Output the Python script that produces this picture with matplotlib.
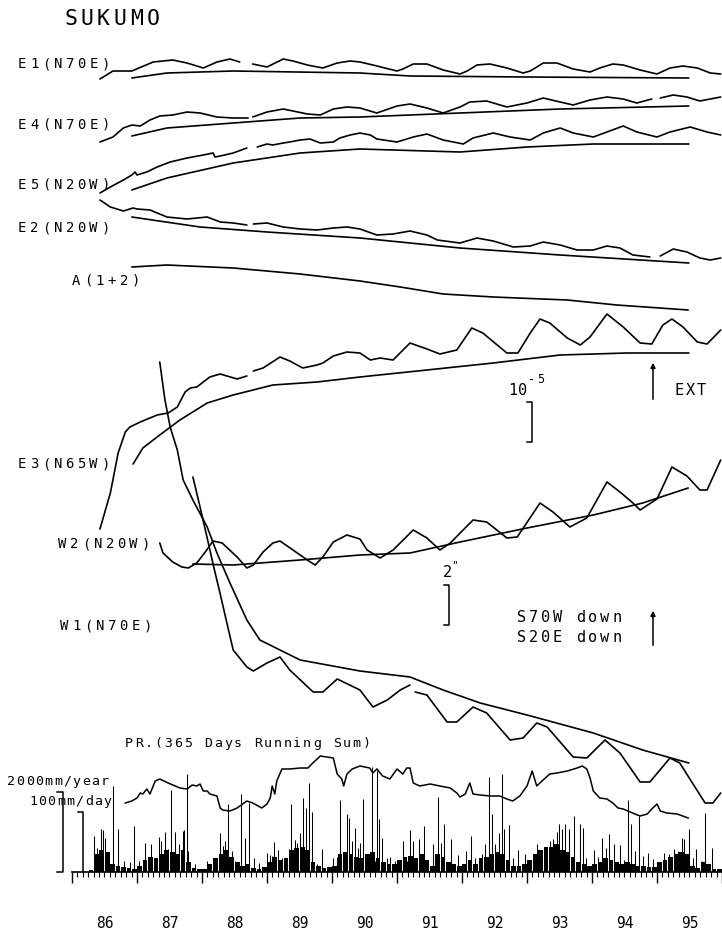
import numpy as np
import matplotlib.pyplot as plt
from matplotlib.transforms import blended_transform_factory

nan = np.nan

#
# strain records, unit 1e-6 (extension up), relative to start of trend
#
e1_year = [1986.43, 1986.63, 1986.92, 1987.25, 1987.55, 1987.77, 1988.02, 1988.23, 1988.43, 1988.58,
           1988.70, 1988.78, 1989.00, 1989.25, 1989.40, 1989.62, 1989.86, 1990.08, 1990.28, 1990.43,
           1990.63, 1991.00, 1991.09, 1991.25, 1991.46, 1991.71, 1991.97, 1992.08, 1992.23, 1992.43,
           1992.69, 1992.94, 1993.05, 1993.25, 1993.46, 1993.71, 1993.97, 1994.12, 1994.32, 1994.48,
           1994.74, 1995.00, 1995.20, 1995.40, 1995.62, 1995.82, 1995.98]
e1_obs = [-0.25, 1.75, 1.75, 4.0, 4.5, 3.75, 2.5, 4.0, 4.75, 4.0,
          nan, 3.5, 2.75, 4.75, 4.25, 3.25, 2.5, 3.75, 4.25, 4.0,
          3.25, 1.75, 2.25, 3.5, 3.5, 2.0, 1.0, 1.75, 3.25, 3.5,
          2.5, 1.25, 1.75, 3.75, 3.75, 2.25, 1.5, 2.5, 3.5, 3.25,
          2.0, 1.0, 2.5, 3.0, 2.5, 1.25, 1.0]
e1_trend_year = [1986.92, 1987.46, 1988.48, 1990.43, 1991.20, 1993.00, 1995.49]
e1_trend = [0, 1.25, 1.75, 1.25, 0.5, 0.25, 0]

e4_year = [1986.43, 1986.63, 1986.79, 1986.92, 1987.05, 1987.20, 1987.35, 1987.55, 1987.77, 1987.97,
           1988.23, 1988.48, 1988.71, 1988.74, 1988.78, 1989.00, 1989.25, 1989.40, 1989.62, 1989.82,
           1990.02, 1990.23, 1990.43, 1990.69, 1991.00, 1991.20, 1991.46, 1991.71, 1991.97, 1992.12,
           1992.38, 1992.69, 1993.00, 1993.25, 1993.51, 1993.71, 1993.97, 1994.23, 1994.48, 1994.69,
           1994.92, 1994.98, 1995.05, 1995.25, 1995.46, 1995.66, 1995.82, 1995.98]
e4_obs = [-1.5, -0.25, 2.0, 2.75, 2.5, 4.0, 5.0, 5.25, 6.0, 5.75,
          4.75, 4.5, 4.5, nan, 4.75, 6.0, 6.75, 6.25, 5.5, 5.25,
          6.75, 7.25, 7.0, 5.75, 7.5, 8.0, 7.0, 5.75, 7.25, 8.5,
          8.75, 7.25, 8.25, 9.5, 8.5, 7.75, 9.0, 9.75, 9.25, 8.25,
          9.25, nan, 9.5, 10.25, 9.75, 8.75, 9.25, 9.75]
e4_trend_year = [1986.92, 1987.46, 1988.48, 1989.51, 1990.43, 1991.97, 1993.51, 1995.49]
e4_trend = [0, 2.0, 3.25, 4.5, 4.75, 5.75, 6.75, 7.5]

e5_year = [1986.43, 1986.59, 1986.79, 1986.92, 1986.97, 1987.00, 1987.15, 1987.31, 1987.51, 1987.77,
           1988.02, 1988.17, 1988.20, 1988.28, 1988.48, 1988.69, 1988.77, 1988.85, 1989.00, 1989.09,
           1989.25, 1989.35, 1989.51, 1989.66, 1989.82, 1990.02, 1990.12, 1990.28, 1990.43, 1990.59,
           1990.69, 1991.00, 1991.25, 1991.46, 1991.71, 1992.02, 1992.17, 1992.48, 1992.74, 1993.05,
           1993.25, 1993.51, 1993.71, 1994.02, 1994.23, 1994.48, 1994.69, 1995.00, 1995.20, 1995.51,
           1995.77, 1995.98]
e5_obs = [-0.75, 0.75, 2.5, 3.75, 4.5, 3.75, 4.5, 5.75, 7.0, 8.0,
          8.75, 9.25, 8.25, 8.5, 9.25, 10.5, nan, 10.75, 11.5, 11.25,
          11.75, 12.0, 12.5, 12.75, 11.75, 12.0, 13.0, 13.75, 14.25, 13.75,
          12.75, 12.0, 13.25, 14.0, 12.5, 11.5, 13.0, 14.25, 13.25, 12.5,
          14.25, 15.5, 14.25, 13.25, 14.5, 16.0, 14.5, 13.25, 14.5, 15.75,
          14.5, 13.75]
e5_trend_year = [1986.92, 1987.46, 1988.48, 1989.51, 1990.43, 1991.97, 1993.00, 1994.02, 1995.49]
e5_trend = [0, 3.0, 6.75, 9.25, 10.25, 9.5, 10.75, 11.5, 11.5]

e2_year = [1986.43, 1986.59, 1986.79, 1986.94, 1987.00, 1987.20, 1987.46, 1987.77, 1988.08, 1988.28,
           1988.48, 1988.69, 1988.74, 1988.79, 1989.00, 1989.25, 1989.51, 1989.77, 1990.02, 1990.23,
           1990.43, 1990.69, 1990.94, 1991.20, 1991.46, 1991.62, 1991.97, 1992.23, 1992.48, 1992.79,
           1993.05, 1993.25, 1993.51, 1993.77, 1994.02, 1994.23, 1994.43, 1994.63, 1994.89, 1994.97,
           1995.05, 1995.25, 1995.46, 1995.66, 1995.82, 1995.98]
e2_obs = [4.25, 2.5, 1.5, 2.25, 2.0, 1.75, 0, -0.5, 0, -1.25,
          -1.5, -2.0, nan, -1.75, -1.5, -2.5, -3.0, -3.25, -2.75, -2.5,
          -3.0, -4.5, -4.25, -3.5, -4.5, -5.75, -6.5, -5.25, -6.0, -7.5,
          -7.25, -6.25, -7.0, -8.25, -8.25, -7.25, -7.75, -9.5, -10.0, nan,
          -9.75, -8.0, -8.75, -10.25, -10.75, -10.25]
e2_trend_year = [1986.92, 1987.97, 1989.00, 1990.43, 1991.97, 1993.51, 1995.49]
e2_trend = [0, -2.5, -3.75, -5.25, -7.75, -9.5, -11.5]

a12_trend_year = [1986.92, 1987.46, 1988.48, 1989.51, 1990.43, 1991.05, 1991.71, 1992.48, 1993.62,
                  1994.38, 1995.48]
a12_trend = [0, 0.5, -0.25, -1.75, -3.5, -5.0, -6.75, -7.5, -8.25, -9.5, -10.75]

e3_year = [1986.43, 1986.59, 1986.71, 1986.82, 1986.89, 1987.05, 1987.31, 1987.48, 1987.62, 1987.74,
           1987.82, 1987.92, 1988.12, 1988.28, 1988.54, 1988.69, 1988.74, 1988.79, 1988.94, 1989.20,
           1989.35, 1989.55, 1989.77, 1989.86, 1990.02, 1990.23, 1990.43, 1990.59, 1990.74, 1990.94,
           1991.20, 1991.46, 1991.66, 1991.92, 1992.15, 1992.32, 1992.69, 1992.86, 1993.05, 1993.20,
           1993.35, 1993.62, 1993.82, 1993.97, 1994.23, 1994.48, 1994.74, 1994.92, 1995.09, 1995.23,
           1995.40, 1995.62, 1995.77, 1995.98]
e3_obs = [-16.25, -7.25, 2.75, 8.0, 9.25, 10.5, 12.25, 12.75, 14.25, 18.0,
          19.0, 19.25, 21.75, 22.5, 21.25, 22.0, nan, 23.25, 24.0, 26.75,
          25.75, 24.0, 24.75, 25.25, 27.0, 28.0, 27.75, 26.0, 26.5, 26.0,
          30.25, 28.75, 27.5, 28.5, 34.0, 32.75, 27.75, 27.75, 32.75, 36.25,
          35.25, 31.5, 29.75, 31.75, 37.5, 34.25, 30.25, 30.0, 34.75, 36.25,
          34.25, 30.5, 30.0, 33.5]
e3_trend_year = [1986.94, 1987.09, 1987.35, 1987.66, 1988.08, 1988.48, 1989.09, 1989.77, 1990.43,
                 1991.46, 1992.48, 1993.51, 1994.54, 1995.49]
e3_trend = [0, 4.0, 7.25, 11.0, 15.25, 17.25, 19.75, 20.5, 21.75, 23.5, 25.25, 27.25, 27.75, 27.75]

#
# tilt records, unit arcsec
#
w2_year = [1987.35, 1987.40, 1987.55, 1987.69, 1987.79, 1987.92, 1988.05, 1988.17, 1988.31, 1988.54,
           1988.69, 1988.79, 1988.94, 1989.09, 1989.20, 1989.40, 1989.62, 1989.74, 1989.86, 1990.02,
           1990.23, 1990.43, 1990.54, 1990.74, 1990.94, 1991.25, 1991.46, 1991.66, 1991.82, 1992.17,
           1992.38, 1992.69, 1992.85, 1993.20, 1993.40, 1993.66, 1993.92, 1994.23, 1994.43, 1994.63,
           1994.74, 1995.00, 1995.23, 1995.46, 1995.66, 1995.77, 1995.98]
w2_obs = [1.05, 0.55, 0.1, -0.15, -0.2, 0.05, 0.6, 1.15, 1.05, 0.35,
          -0.2, -0.05, 0.6, 1.05, 1.15, 0.7, 0.2, -0.05, 0.35, 1.1,
          1.45, 1.25, 0.7, 0.3, 0.7, 1.7, 1.3, 0.7, 1.05, 2.2,
          2.1, 1.3, 1.35, 3.05, 2.6, 1.85, 2.3, 4.1, 3.6, 3.05,
          2.7, 3.25, 4.85, 4.4, 3.7, 3.7, 5.2]
w2_trend_year = [1987.86, 1988.48, 1989.51, 1990.43, 1991.20, 1991.97, 1993.00, 1994.02, 1994.78, 1995.48]
w2_trend = [0, -0.05, 0.2, 0.45, 0.55, 1.1, 1.8, 2.45, 3.05, 3.8]

w1_year = [1987.86, 1987.97, 1988.08, 1988.17, 1988.28, 1988.39, 1988.48, 1988.69, 1988.79, 1989.00,
           1989.20, 1989.35, 1989.71, 1989.86, 1990.08, 1990.43, 1990.63, 1990.85, 1991.05, 1991.20,
           1991.23, 1991.28, 1991.46, 1991.77, 1991.92, 1992.17, 1992.38, 1992.74, 1992.94, 1993.15,
           1993.31, 1993.71, 1993.92, 1994.20, 1994.43, 1994.74, 1994.89, 1995.20, 1995.35, 1995.74,
           1995.86, 1995.98]
w1_obs = [8.65, 7.15, 5.6, 4.3, 2.8, 1.25, 0, -0.85, -1.05, -0.65,
          -0.35, -1.0, -2.1, -2.1, -1.45, -2.0, -2.85, -2.5, -2.0, -1.75,
          nan, -2.1, -2.25, -3.6, -3.6, -2.85, -3.15, -4.5, -4.4, -3.65,
          -3.85, -5.35, -5.4, -4.5, -5.15, -6.6, -6.6, -5.4, -5.65, -7.65,
          -7.65, -7.15]
w1_trend_year = [1987.35, 1987.43, 1987.51, 1987.62, 1987.71, 1987.86, 1988.08, 1988.23, 1988.43,
                 1988.69, 1988.89, 1989.20, 1989.51, 1990.43, 1991.20, 1991.71, 1992.28, 1993.00,
                 1994.02, 1994.78, 1995.49]
w1_trend = [14.4, 12.5, 11.15, 10.0, 8.5, 7.5, 6.15, 4.85, 3.35, 1.5, 0.5, 0, -0.5, -1.05, -1.35,
            -2.0, -2.65, -3.25, -4.15, -5.0, -5.65]

#
# precipitation: 365 days running sum (mm/year) and large daily amounts (mm/day)
#
sum_year = [1986.82, 1986.92, 1987.00, 1987.05, 1987.09, 1987.15, 1987.20, 1987.28, 1987.35, 1987.48,
            1987.66, 1987.77, 1987.85, 1987.92, 1987.97, 1988.02, 1988.08, 1988.12, 1988.23, 1988.28,
            1988.32, 1988.43, 1988.54, 1988.69, 1988.78, 1988.92, 1989.00, 1989.05, 1989.08, 1989.12,
            1989.15, 1989.23, 1989.35, 1989.51, 1989.63, 1989.69, 1989.82, 1990.02, 1990.08, 1990.15,
            1990.18, 1990.23, 1990.31, 1990.43, 1990.58, 1990.63, 1990.69, 1990.78, 1990.89, 1991.00,
            1991.09, 1991.15, 1991.20, 1991.25, 1991.35, 1991.51, 1991.66, 1991.82, 1991.92, 1991.97,
            1992.05, 1992.12, 1992.17, 1992.28, 1992.43, 1992.58, 1992.69, 1992.78, 1992.89, 1993.00,
            1993.08, 1993.15, 1993.23, 1993.35, 1993.46, 1993.62, 1993.77, 1993.85, 1993.92, 1993.97,
            1994.02, 1994.12, 1994.23, 1994.32, 1994.40, 1994.48, 1994.66, 1994.74, 1994.85, 1994.92,
            1995.00, 1995.05, 1995.15, 1995.31, 1995.48]
sum_mm = [1725, 1775, 1850, 1975, 1950, 2075, 1950, 2275, 2325, 2225,
          2100, 2075, 2175, 2150, 2200, 2025, 2025, 1950, 1900, 1600,
          1550, 1525, 1600, 1775, 1725, 1600, 1700, 1850, 2150, 1950,
          2275, 2575, 2575, 2600, 2600, 2700, 2900, 2850, 2450, 2325,
          2150, 2450, 2575, 2650, 2600, 2475, 2575, 2400, 2325, 2575,
          2450, 2600, 2600, 2225, 2150, 2200, 2150, 2100, 1975, 1875,
          1950, 2225, 1950, 1925, 1900, 1900, 1825, 1775, 1900, 2150,
          2525, 2150, 2275, 2450, 2475, 2525, 2600, 2650, 2575, 2350,
          2025, 1850, 1825, 1725, 1600, 1575, 1450, 1400, 1450, 1575,
          1700, 1525, 1475, 1450, 1350]

rain_year = [1986.34, 1986.38, 1986.45, 1986.48, 1986.51, 1986.63, 1986.71, 1986.80, 1986.89, 1986.95,
             1987.03, 1987.12, 1987.22, 1987.28, 1987.34, 1987.37, 1987.43, 1987.48, 1987.52, 1987.58,
             1987.65, 1987.71, 1987.72, 1987.77, 1987.78, 1987.89,
             1988.08, 1988.20, 1988.28, 1988.32, 1988.35, 1988.40, 1988.46, 1988.51, 1988.60, 1988.66,
             1988.72, 1988.80, 1988.88,
             1989.00, 1989.05, 1989.08, 1989.11, 1989.17, 1989.23, 1989.31, 1989.34, 1989.37, 1989.43,
             1989.46, 1989.51, 1989.55, 1989.60, 1989.65, 1989.69, 1989.77, 1989.85,
             1990.02, 1990.08, 1990.12, 1990.17, 1990.23, 1990.26, 1990.31, 1990.35, 1990.40, 1990.43,
             1990.48, 1990.54, 1990.62, 1990.66, 1990.69, 1990.72, 1990.77, 1990.85, 1990.89, 1990.97,
             1991.09, 1991.15, 1991.20, 1991.25, 1991.34, 1991.42, 1991.55, 1991.63, 1991.68, 1991.72,
             1991.83, 1991.94,
             1992.06, 1992.14, 1992.20, 1992.31, 1992.35, 1992.42, 1992.46, 1992.51, 1992.57, 1992.62,
             1992.65, 1992.72, 1992.78, 1992.86, 1992.97,
             1993.15, 1993.23, 1993.31, 1993.35, 1993.40, 1993.46, 1993.49, 1993.54, 1993.58, 1993.65,
             1993.72, 1993.82, 1993.86, 1993.91,
             1994.03, 1994.09, 1994.15, 1994.22, 1994.26, 1994.34, 1994.43, 1994.49, 1994.55, 1994.60,
             1994.66, 1994.72, 1994.78, 1994.86, 1994.94,
             1995.11, 1995.18, 1995.26, 1995.32, 1995.38, 1995.42, 1995.49, 1995.55, 1995.60, 1995.69,
             1995.74, 1995.85]
rain_mm = [60, 40, 72, 70, 57, 143, 72, 18, 17, 77,
           18, 48, 47, 23, 58, 52, 67, 38, 137, 67,
           47, 68, 70, 163, 35, 13,
           18, 23, 65, 43, 52, 113, 35, 18, 130, 57,
           115, 23, 15,
           32, 28, 27, 50, 37, 23, 18, 38, 113, 53,
           48, 65, 123, 107, 148, 100, 13, 38,
           23, 25, 120, 25, 97, 90, 52, 73, 40, 48,
           122, 23, 175, 18, 168, 88, 57, 23, 25, 18,
           52, 18, 70, 52, 55, 77, 47, 125, 48, 80,
           55, 28,
           35, 60, 23, 30, 47, 158, 97, 47, 65, 163,
           72, 78, 23, 37, 30,
           47, 35, 42, 52, 55, 67, 80, 72, 80, 72,
           93, 80, 73, 23,
           37, 25, 57, 40, 63, 47, 45, 20, 120, 80,
           35, 93, 27, 32, 22,
           32, 30, 38, 35, 57, 55, 72, 23, 38, 18,
           98, 40]

# the dense low part of the daily bars, one typical height per month (mm/day)
floor_mm = [0, 0, 0, 3, 30, 37, 33, 13, 10, 8, 7, 5,
            10, 20, 25, 23, 30, 37, 33, 30, 37, 17, 7, 5,
            5, 13, 23, 30, 37, 25, 17, 10, 13, 7, 5, 8,
            17, 25, 20, 23, 37, 40, 42, 37, 17, 10, 7, 8,
            10, 30, 33, 30, 25, 23, 30, 33, 23, 17, 13, 13,
            20, 25, 27, 23, 30, 20, 10, 30, 25, 17, 13, 10,
            13, 20, 13, 23, 25, 30, 33, 30, 20, 10, 10, 13,
            20, 30, 37, 42, 42, 47, 37, 33, 25, 17, 13, 10,
            13, 17, 23, 20, 17, 13, 17, 13, 10, 10, 8, 8,
            17, 20, 25, 30, 33, 30, 10, 7, 17, 13, 5, 5]

years = list(range(1986, 1996))

# layout (pixels of the 722x934 sheet)
W, H = 722, 934
X0_PX = 72           # left end of the time axis (1986.0)
PX_PER_YEAR = 65
STRAIN_PX = 4.0      # px per 1e-6
TILT_PX = 20.0       # px per arcsec
DAY_PX = 0.6         # px per mm/day
YEAR_PX = 0.04       # px per mm/year
BASE_PX = 872        # precipitation zero line
FONT = 'DejaVu Sans Mono'
LW = 1.2

fig = plt.figure(figsize=(W / 100, H / 100), dpi=100)

# traces: x in years, y in sheet pixels
tr = fig.add_axes([0, 0, 1, 1])
tr.set_xlim(1986 - X0_PX / PX_PER_YEAR, 1986 + (W - X0_PX) / PX_PER_YEAR)
tr.set_ylim(H, 0)
tr.axis('off')


def trace(yr, val, base, scale):
    tr.plot(yr, base - np.array(val, dtype=float) * scale, color='k', lw=LW,
            solid_joinstyle='round', solid_capstyle='round')


trace(e1_year, e1_obs, 78, STRAIN_PX)
trace(e1_trend_year, e1_trend, 78, STRAIN_PX)
trace(e4_year, e4_obs, 136, STRAIN_PX)
trace(e4_trend_year, e4_trend, 136, STRAIN_PX)
trace(e5_year, e5_obs, 190, STRAIN_PX)
trace(e5_trend_year, e5_trend, 190, STRAIN_PX)
trace(e2_year, e2_obs, 217, STRAIN_PX)
trace(e2_trend_year, e2_trend, 217, STRAIN_PX)
trace(a12_trend_year, a12_trend, 267, STRAIN_PX)
trace(e3_year, e3_obs, 464, STRAIN_PX)
trace(e3_trend_year, e3_trend, 464, STRAIN_PX)
trace(w2_year, w2_obs, 564, TILT_PX)
trace(w2_trend_year, w2_trend, 564, TILT_PX)
trace(w1_year, w1_obs, 650, TILT_PX)
trace(w1_trend_year, w1_trend, 650, TILT_PX)

# precipitation panel
top_px = 700
pr = fig.add_axes([X0_PX / W, (H - BASE_PX) / H, (W - X0_PX) / W, (BASE_PX - top_px) / H])
pr.set_xlim(1986, 1986 + (W - X0_PX) / PX_PER_YEAR)
pr.set_ylim(0, (BASE_PX - top_px) / DAY_PX)
pr.patch.set_visible(False)
for s in ['top', 'left', 'right']:
    pr.spines[s].set_visible(False)
pr.spines['bottom'].set_linewidth(1.2)
pr.set_yticks([])
pr.set_xticks(list(range(1986, 1997)))
pr.set_xticks(np.arange(1986, 1996, 1 / 12), minor=True)
pr.tick_params(axis='x', which='major', length=8, width=1.0, labelbottom=False)
pr.tick_params(axis='x', which='minor', length=3.5, width=0.8)

month_mid = 1986 + (np.arange(len(floor_mm)) + 0.5) / 12
pr.bar(month_mid, floor_mm, width=0.072, color='k', lw=0)
pr.vlines(rain_year, 0, rain_mm, color='k', lw=0.75)

ps = pr.twinx()
ps.set_ylim(0, (BASE_PX - top_px) / YEAR_PX)
ps.axis('off')
ps.plot(sum_year, sum_mm, color='k', lw=1.1)

# labels and scale marks, sheet pixels
lab = fig.add_axes([0, 0, 1, 1])
lab.set_xlim(0, W)
lab.set_ylim(H, 0)
lab.axis('off')


def spaced(x0, y, s, size, step):
    for i, ch in enumerate(s):
        lab.text(x0 + i * step, y, ch, fontsize=size, family=FONT, ha='left', va='baseline', color='k')


spaced(64, 25, 'SUKUMO', 15.5, 16.5)
spaced(18, 68, 'E1(N70E)', 10, 11.9)
spaced(18, 129, 'E4(N70E)', 10, 11.9)
spaced(18, 189, 'E5(N20W)', 10, 11.9)
spaced(18, 232, 'E2(N20W)', 10, 11.9)
spaced(72, 285, 'A(1+2)', 10, 11.9)
spaced(18, 468, 'E3(N65W)', 10, 11.9)
spaced(58, 548, 'W2(N20W)', 10, 11.9)
spaced(60, 630, 'W1(N70E)', 10, 11.9)

spaced(508, 395, '10', 11, 10)
spaced(528, 383, '-5', 8.5, 9)
spaced(675, 395, 'EXT', 11, 11)
spaced(443, 577, '2', 11, 10)
spaced(451, 568, '"', 8, 8)
spaced(517, 622, 'S70W down', 11, 11.9)
spaced(517, 642, 'S20E down', 11, 11.9)

spaced(125, 747, 'PR.(365 Days Running Sum)', 9.5, 9.9)
spaced(7, 785, '2000mm/year', 9.5, 9.4)
spaced(29, 805, '100mm/day', 9.5, 9.3)

# strain scale (1e-5) and tilt scale (2")
top = 402
lab.plot([527, 532, 532, 527], [top, top, top + 10 * STRAIN_PX, top + 10 * STRAIN_PX], color='k', lw=1.1)
top = 585
lab.plot([444, 449, 449, 444], [top, top, top + 2 * TILT_PX, top + 2 * TILT_PX], color='k', lw=1.1)

# precipitation scales
tb = blended_transform_factory(lab.transData, ps.transData)
lab.plot([57, 63, 63, 57], [2000, 2000, 0, 0], color='k', lw=1.1, transform=tb)
td = blended_transform_factory(lab.transData, pr.transData)
lab.plot([78, 83, 83], [100, 100, 0], color='k', lw=1.1, transform=td)

# arrows
arrow = dict(arrowstyle='-|>', lw=1.1, color='k', mutation_scale=7)
lab.annotate('', xy=(653, 360), xytext=(653, 402), arrowprops=arrow)
lab.annotate('', xy=(653, 608), xytext=(653, 648), arrowprops=arrow)

# year labels in the middle of each year
ty = blended_transform_factory(pr.transData, lab.transData)
for yr in years:
    lab.text(yr + 0.5, 928, '%02d' % (yr % 100), transform=ty, fontsize=10.5, family=FONT,
             ha='center', va='baseline', color='k')

fig.savefig('out.png', dpi=100)
